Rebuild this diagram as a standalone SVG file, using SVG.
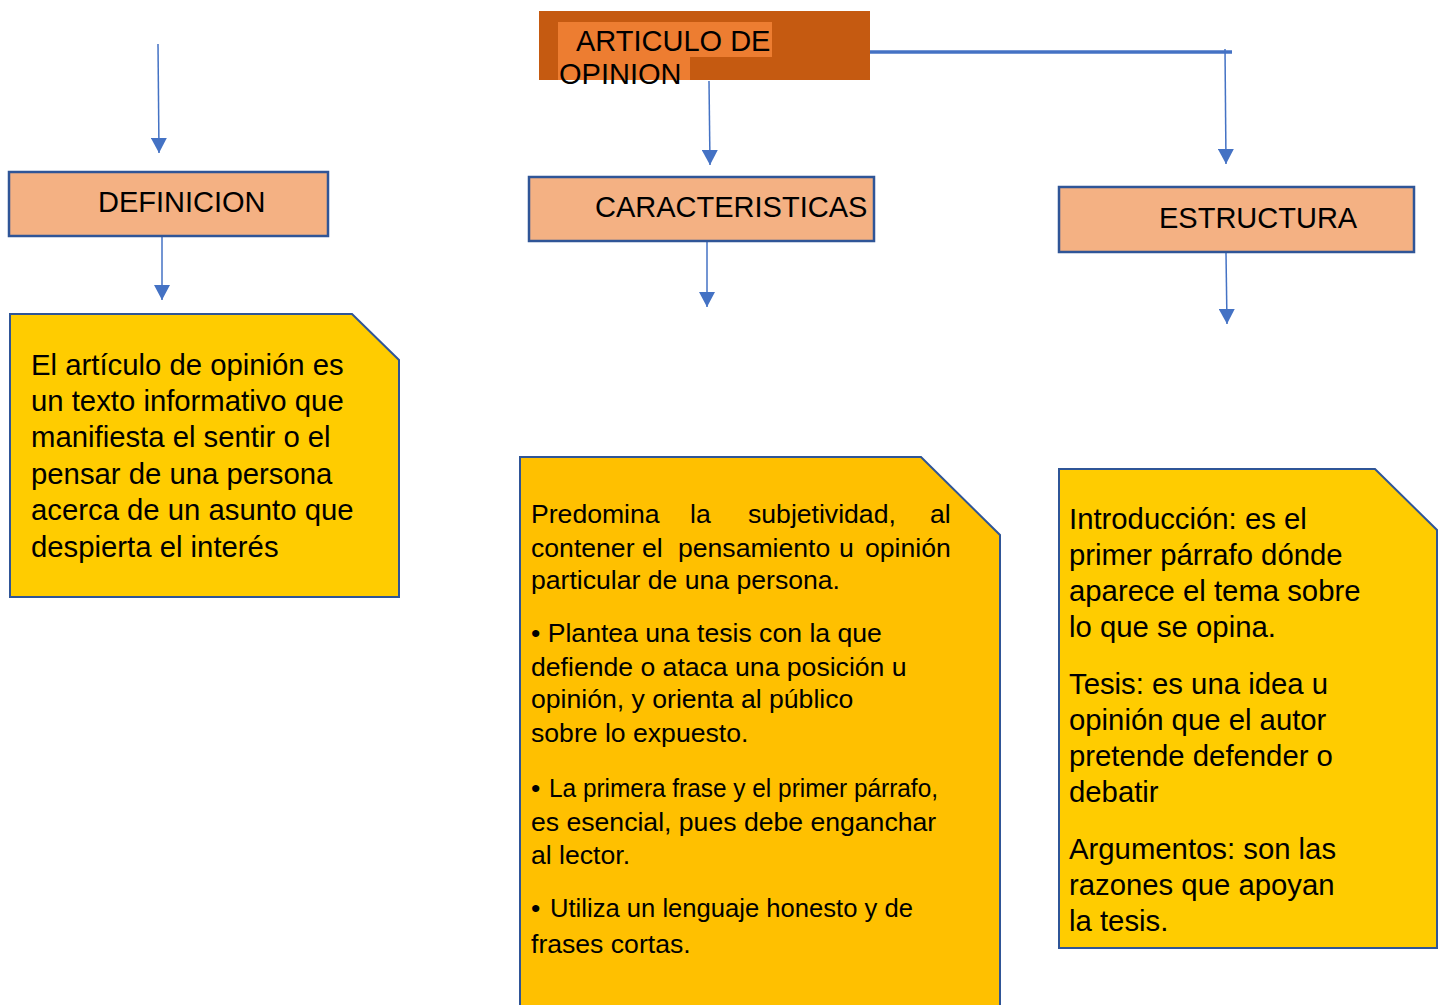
<svg xmlns="http://www.w3.org/2000/svg" width="1442" height="1005" viewBox="0 0 1442 1005">
<style>
text{font-family:"Liberation Sans",Arial,sans-serif;fill:#000}
.h{font-size:29px}
.box{fill:#F4B183;stroke:#2F5597;stroke-width:2.5}
.note{stroke:#2F5597;stroke-width:2}
.c{fill:none;stroke:#4472C4;stroke-width:1.5}
.t29{font-size:29.3px}
.t26{font-size:26.6px}
</style>
<defs>
<marker id="ah" markerUnits="userSpaceOnUse" markerWidth="16" markerHeight="16" refX="15" refY="8" orient="auto" viewBox="0 0 16 16">
<path d="M0,0 L15,8 L0,16 z" fill="#4472C4"/>
</marker>
</defs>
<rect width="1442" height="1005" fill="#fff"/>

<g id="connectors">
<line x1="870" y1="52" x2="1232" y2="52" stroke="#4472C4" stroke-width="3.5"/>
<line class="c" x1="158" y1="44" x2="159" y2="153" marker-end="url(#ah)"/>
<line class="c" x1="709" y1="81" x2="710" y2="165" marker-end="url(#ah)"/>
<line class="c" x1="1225" y1="49" x2="1226" y2="164" marker-end="url(#ah)"/>
<line class="c" x1="162" y1="237" x2="162" y2="300" marker-end="url(#ah)"/>
<line class="c" x1="707" y1="242" x2="707" y2="307" marker-end="url(#ah)"/>
<line class="c" x1="1226" y1="253" x2="1227" y2="324" marker-end="url(#ah)"/>
</g>

<g id="title">
<rect x="539" y="11" width="331" height="69" fill="#C55A11"/>
<path d="M558,22 H772 V57 H690 V80 H558 z" fill="#ED7D31"/>
<text class="h" x="576" y="51">ARTICULO DE</text>
<text class="h" x="559" y="84">OPINION</text>
</g>

<g id="definicion">
<rect class="box" x="9" y="172" width="319" height="64"/>
<text class="h" x="98" y="212">DEFINICION</text>
</g>

<g id="caracteristicas">
<rect class="box" x="529" y="177" width="345" height="64"/>
<text class="h" x="595" y="217">CARACTERISTICAS</text>
</g>

<g id="estructura">
<rect class="box" x="1059" y="187" width="355" height="65"/>
<text class="h" x="1159" y="228">ESTRUCTURA</text>
</g>

<g id="nota-definicion">
<path class="note" d="M10,314 H352 L399,360 V597 H10 z" fill="#FFCC00"/>
<text class="t29" x="31">
<tspan x="31" y="375">El artículo de opinión es</tspan>
<tspan x="31" y="411">un texto informativo que</tspan>
<tspan x="31" y="447">manifiesta el sentir o el</tspan>
<tspan x="31" y="484">pensar de una persona</tspan>
<tspan x="31" y="520">acerca de un asunto que</tspan>
<tspan x="31" y="557">despierta el interés</tspan>
</text>
</g>

<g id="nota-caracteristicas">
<path class="note" d="M520,457 H921 L1000,535 V1006 H520 z" fill="#FFC000"/>
<text class="t26">
<tspan x="531" y="523">Predomina</tspan><tspan x="690" y="523">la</tspan><tspan x="748" y="523">subjetividad,</tspan><tspan x="930" y="523">al</tspan>
<tspan x="531" y="557">contener</tspan><tspan x="642" y="557">el</tspan><tspan x="678" y="557">pensamiento</tspan><tspan x="839" y="557">u</tspan><tspan x="865" y="557">opinión</tspan>
<tspan x="531" y="589">particular de una persona.</tspan>
<tspan x="531" y="642">• Plantea una tesis con la que</tspan>
<tspan x="531" y="676">defiende o ataca una posición u</tspan>
<tspan x="531" y="708">opinión, y orienta al público</tspan>
<tspan x="531" y="742">sobre lo expuesto.</tspan>
</text>
<text class="t26" x="531" y="797">•</text>
<text class="t26" x="549" y="797" textLength="389" lengthAdjust="spacingAndGlyphs">La primera frase y el primer párrafo,</text>
<text class="t26" x="531" y="831">es esencial, pues debe enganchar</text>
<text class="t26" x="531" y="864">al lector.</text>
<text class="t26" x="531" y="917">•</text>
<text class="t26" x="550" y="917" textLength="363" lengthAdjust="spacingAndGlyphs">Utiliza un lenguaje honesto y de</text>
<text class="t26" x="531" y="953">frases cortas.</text>
</g>

<g id="nota-estructura">
<path class="note" d="M1059,469 H1375 L1437,530 V948 H1059 z" fill="#FFCC00"/>
<text class="t29">
<tspan x="1069" y="529">Introducción: es el</tspan>
<tspan x="1069" y="565">primer párrafo dónde</tspan>
<tspan x="1069" y="601">aparece el tema sobre</tspan>
<tspan x="1069" y="637">lo que se opina.</tspan>
<tspan x="1069" y="694">Tesis: es una idea u</tspan>
<tspan x="1069" y="730">opinión que el autor</tspan>
<tspan x="1069" y="766">pretende defender o</tspan>
<tspan x="1069" y="802">debatir</tspan>
<tspan x="1069" y="859">Argumentos: son las</tspan>
<tspan x="1069" y="895">razones que apoyan</tspan>
<tspan x="1069" y="931">la tesis.</tspan>
</text>
</g>
</svg>
